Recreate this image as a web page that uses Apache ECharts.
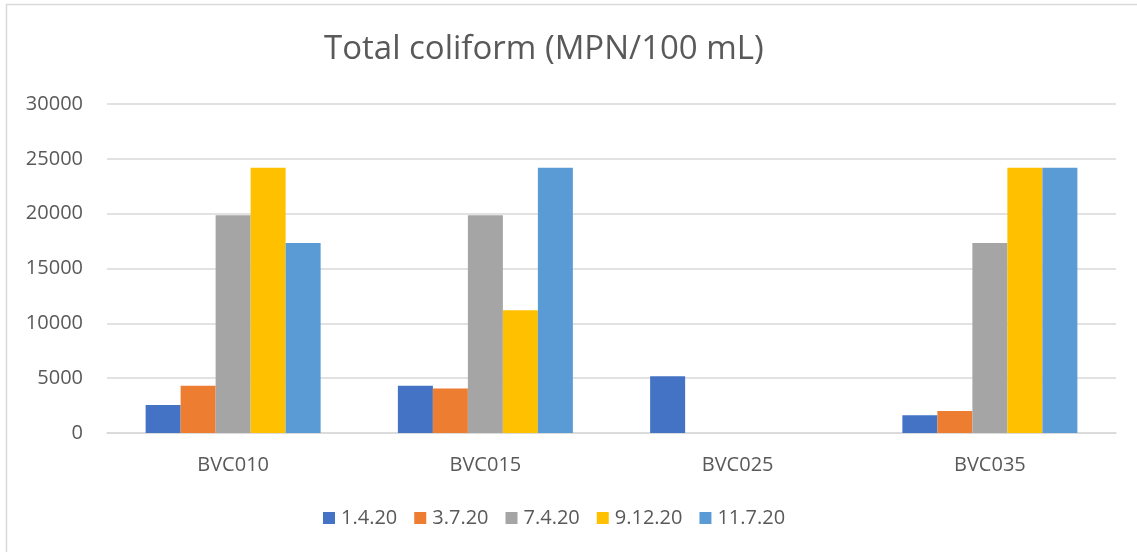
<!DOCTYPE html>
<html>
<head>
<meta charset="utf-8">
<script src="https://cdn.jsdelivr.net/npm/echarts@6/dist/echarts.min.js"></script>
<style>
html,body{margin:0;padding:0;background:#fff;}
#chart{width:1137px;height:552px;}
</style>
</head>
<body>
<div id="chart"></div>
<script>
const categories = ['BVC010', 'BVC015', 'BVC025', 'BVC035'];
const seriesNames = ['1.4.20', '3.7.20', '7.4.20', '9.12.20', '11.7.20'];
const s1_4_20 = [2550, 4300, 5172, 1616];
const s3_7_20 = [4300, 4050, null, 2014];
const s7_4_20 = [19863, 19863, null, 17329];
const s9_12_20 = [24196, 11199, null, 24196];
const s11_7_20 = [17329, 24196, null, 24196];
const yTicks = [0, 5000, 10000, 15000, 20000, 25000, 30000];
const colors = ['#4472C4', '#ED7D31', '#A5A5A5', '#FFC000', '#5B9BD5'];

const values = [s1_4_20, s3_7_20, s7_4_20, s9_12_20, s11_7_20];
const FONT = 'Open Sans';
const TXT = '#595959';

const chart = echarts.init(document.getElementById('chart'));
chart.setOption({
  animation: false,
  backgroundColor: '#ffffff',
  textStyle: { fontFamily: FONT },
  graphic: [{
    type: 'rect',
    shape: { x: 6.5, y: 4.5, width: 1200, height: 700 },
    style: { fill: 'none', stroke: '#d9d9d9', lineWidth: 1.5 },
    silent: true, z: -1
  }],
  title: {
    text: 'Total coliform (MPN/100 mL)',
    left: 324,
    top: 33,
    padding: 0,
    textStyle: { fontFamily: FONT, fontSize: 33, fontWeight: 'normal', color: TXT }
  },
  legend: {
    data: seriesNames,
    bottom: 19,
    left: 318,
    itemWidth: 12,
    itemHeight: 12,
    itemGap: 17,
    icon: 'rect',
    textStyle: { fontFamily: FONT, fontSize: 20, color: TXT, padding: [0, 0, 0, 1] }
  },
  grid: { left: 107, right: 21, top: 104, bottom: 119, containLabel: false },
  xAxis: {
    type: 'category',
    data: categories,
    axisLine: { show: true, lineStyle: { color: '#d9d9d9', width: 1.5 } },
    axisTick: { show: false },
    axisLabel: { fontFamily: FONT, fontSize: 20, color: TXT, margin: 22 }
  },
  yAxis: {
    type: 'value',
    min: yTicks[0],
    max: yTicks[yTicks.length - 1],
    interval: yTicks[1] - yTicks[0],
    axisLine: { show: false },
    axisTick: { show: false },
    splitLine: { lineStyle: { color: '#d9d9d9', width: 1.5 } },
    axisLabel: { fontFamily: FONT, fontSize: 20, color: TXT, margin: 24, formatter: v => String(v) }
  },
  series: seriesNames.map((name, i) => ({
    name: name,
    type: 'bar',
    data: values[i],
    barWidth: 35,
    barGap: '0%',
    itemStyle: { color: colors[i] }
  }))
});
</script>
</body>
</html>
